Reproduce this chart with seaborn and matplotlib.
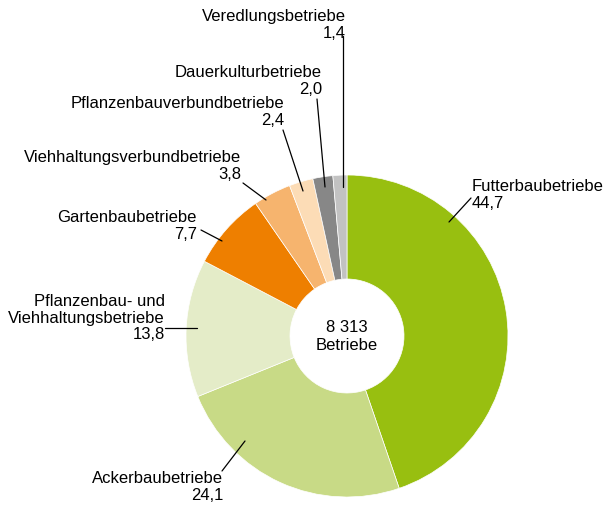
import matplotlib
matplotlib.use("Agg")
import matplotlib.pyplot as plt
import seaborn as sns

# Anteile der Betriebsformen in %
labels = [
    "Futterbaubetriebe",
    "Ackerbaubetriebe",
    "Pflanzenbau- und\nViehhaltungsbetriebe",
    "Gartenbaubetriebe",
    "Viehhaltungsverbundbetriebe",
    "Pflanzenbauverbundbetriebe",
    "Dauerkulturbetriebe",
    "Veredlungsbetriebe",
]
values = [44.7, 24.1, 13.8, 7.7, 3.8, 2.4, 2.0, 1.4]
farben = ["#98bf10", "#c8da86", "#e4ecc8", "#ee7f00",
          "#f6b46e", "#fcdcb6", "#878787", "#c2c2c2"]
total_text = "8 313\nBetriebe"

# Layout in Pixeln (y von oben)
W, H = 606, 508
cx, cy, r_out, r_in = 347, 336, 161, 57

# Textposition (x, y-Mitte, ha) und Linie (von, nach)
label_pos = [
    (472, 195, "left", (471, 198), (449, 222)),
    (223, 487, "right", (222, 471), (245, 441)),
    (165, 318, "right", (165, 328), (197, 328)),
    (197, 226, "right", (201, 230), (222, 241)),
    (241, 166, "right", (243, 183), (266, 200)),
    (284, 112, "right", (283, 130), (303, 191)),
    (322, 81, "right", (317, 99), (325, 187)),
    (346, 25, "right", (343, 36), (343, 187)),
]

sns.set_theme(style="white")
plt.rcParams["font.family"] = ["Liberation Sans", "DejaVu Sans"]

fig = plt.figure(figsize=(W / 100, H / 100), dpi=100)
ax = fig.add_axes([0, 0, 1, 1])

ax.pie(values, colors=sns.color_palette(farben), startangle=90, counterclock=False,
       radius=r_out, center=(cx, H - cy),
       wedgeprops=dict(width=r_out - r_in, edgecolor="white", linewidth=0.5))
ax.set_xlim(0, W)
ax.set_ylim(0, H)
ax.set_aspect("equal")
ax.axis("off")

ax.text(cx, H - cy, total_text, ha="center", va="center", fontsize=12,
        linespacing=1.25, color="black")

for lab, val, (tx, ty, ha, p0, p1) in zip(labels, values, label_pos):
    txt = lab + "\n" + f"{val:.1f}".replace(".", ",")
    ax.text(tx, H - ty, txt, ha=ha, va="center", multialignment=ha,
            fontsize=12, linespacing=1.15, color="black")
    ax.plot([p0[0], p1[0]], [H - p0[1], H - p1[1]], color="black", lw=0.9)

fig.savefig("out.png", dpi=100)
